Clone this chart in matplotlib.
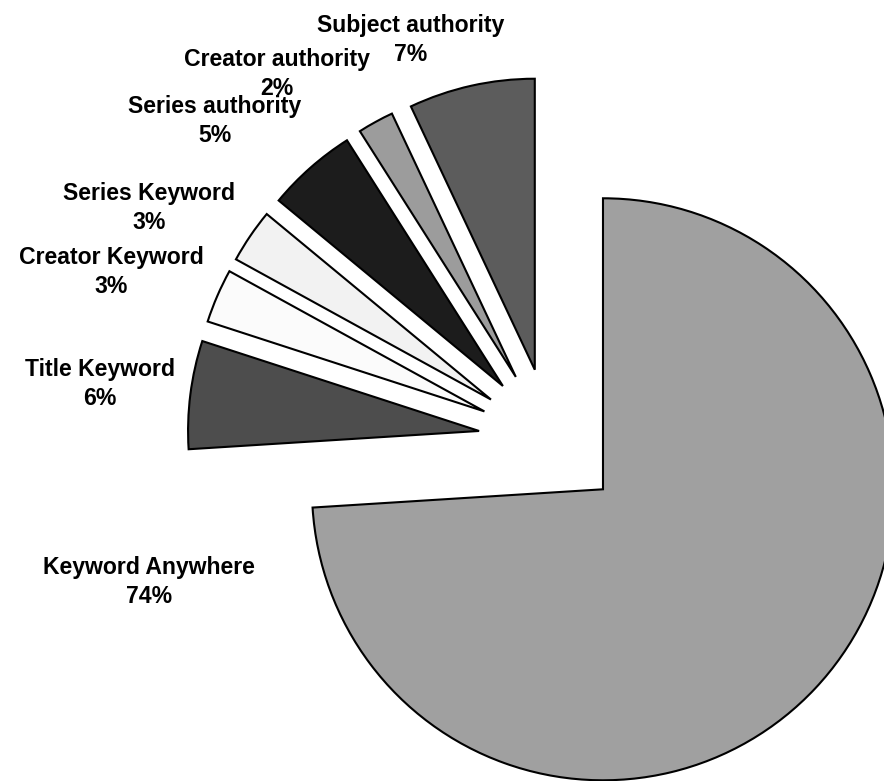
import matplotlib.pyplot as plt

plt.rcParams['font.family'] = ['Liberation Sans', 'DejaVu Sans']

# search types and their share of searches (%)
categories = ["Keyword Anywhere", "Title Keyword", "Creator Keyword", "Series Keyword",
              "Series authority", "Creator authority", "Subject authority"]
shares = [74, 6, 3, 3, 5, 2, 7]
colors = ["#a0a0a0", "#4d4d4d", "#fbfbfb", "#f2f2f2", "#1c1c1c", "#9c9c9c", "#5c5c5c"]

# label anchor points (pixel coords, y measured from top)
label_x = [149, 100, 111, 149, 215, 277, 411]
label_y = [582, 384, 272, 208, 121, 74, 40]

W, H = 884, 781
R = 291
fig = plt.figure(figsize=(W / 100, H / 100), dpi=100)
ax = fig.add_axes([0, 0, 1, 1])

# explode is given in data units here (radius is in pixels)
ax.pie(shares, colors=colors, startangle=90, counterclock=False,
       radius=R, center=(550.5, H - 440), explode=[72] * len(shares),
       wedgeprops=dict(edgecolor="black", linewidth=1.5))

for name, val, x, y in zip(categories, shares, label_x, label_y):
    ax.text(x, H - y, f"{name}\n{val}%", ha="center", va="center",
            fontsize=16.6, fontweight="bold", linespacing=1.3)

ax.set_xlim(0, W)
ax.set_ylim(0, H)
ax.set_aspect("equal")
ax.axis("off")

fig.savefig("out.png", dpi=100)
